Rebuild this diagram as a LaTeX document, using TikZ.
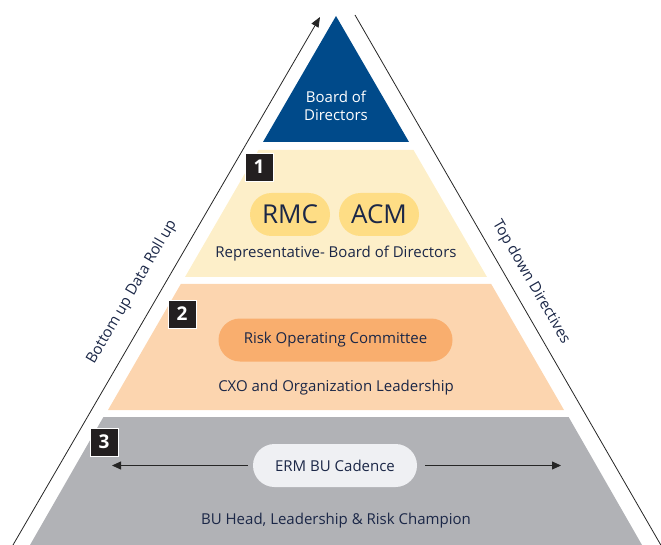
\documentclass[tikz,border=0pt]{standalone}
\usepackage{fontspec}
\setmainfont{Open Sans}
\usetikzlibrary{arrows.meta,calc}
\definecolor{navy}{HTML}{004A8A}
\definecolor{ink}{HTML}{1B2747}
\definecolor{lay1}{HTML}{FDEFC9}
\definecolor{pill1}{HTML}{FEDD85}
\definecolor{lay2}{HTML}{FCD5AF}
\definecolor{pill2}{HTML}{F9AE6E}
\definecolor{lay3}{HTML}{B1B2B6}
\definecolor{pill3}{HTML}{EFF0F3}
\definecolor{numbg}{HTML}{231F20}
\tikzset{
  numbox/.style={draw=white,line width=0.8pt,fill=numbg,text=white,minimum width=28pt,minimum height=28pt,inner sep=0pt,font=\fontsize{19}{19}\selectfont\bfseries},
  pill/.style={rounded corners=21.5pt,minimum height=43pt,inner sep=0pt,text=ink},
  lbl/.style={text=ink,font=\fontsize{15}{17}\selectfont,inner sep=0pt},
  sideline/.style={draw=black!85,line width=0.8pt},
  cadarrow/.style={draw=black!85,line width=0.8pt,-{Triangle[length=9pt,width=8pt]}}
}
\begin{document}
\begin{tikzpicture}[x=1pt,y=-1pt]
\useasboundingbox (0,0) rectangle (661,545);
% layers (cone: half-width = 0.579*(y-16), centre x=336)
\fill[navy] (336,16) -- (263,142) -- (409,142) -- cycle;
\fill[lay1] (258.5,150) -- (413.5,150) -- (487,277) -- (185,277) -- cycle;
\fill[lay2] (180.8,284) -- (491.2,284) -- (564,410) -- (108,410) -- cycle;
\fill[lay3] (103.4,417) -- (568.6,417) -- (642,545) -- (30,545) -- cycle;
% side lines
\coordinate (lb) at (13,545);
\coordinate (lt) at (320,17);
\coordinate (rt) at (355,15);
\coordinate (rb) at (666,554);
\draw[sideline,-{Triangle[length=10pt,width=8pt]}] (lb) -- (lt);
\draw[sideline,-{Triangle[length=10pt,width=8pt]}] (rt) -- (rb);
\node[text=ink,font=\fontsize{15}{17}\selectfont,rotate=59.8] (bu) at (132,292) {Bottom up Data Roll up};
\node[text=ink,font=\fontsize{15}{17}\selectfont,rotate=-60] (td) at (531,282) {Top down Directives};
% top
\node[text=white,font=\fontsize{15}{18}\selectfont,align=center] (bod) at (336,106) {Board of\\Directors};
% layer 1
\node[numbox] (n1) at (259,167) {1};
\node[pill,fill=pill1,minimum width=80pt,font=\fontsize{26}{26}\selectfont] (rmc) at (290,214.5) {RMC};
\node[pill,fill=pill1,minimum width=80pt,font=\fontsize{26}{26}\selectfont] (acm) at (379,214.5) {ACM};
\node[lbl] (rep) at (336,254) {Representative- Board of Directors};
% layer 2
\node[numbox] (n2) at (182,314) {2};
\node[pill,fill=pill2,minimum width=234pt,font=\fontsize{15}{17}\selectfont] (roc) at (335.5,340) {Risk Operating Committee};
\node[lbl] (cxo) at (336,388) {CXO and Organization Leadership};
% layer 3
\node[numbox] (n3) at (104,442) {3};
\node[pill,fill=pill3,minimum width=164pt,font=\fontsize{15}{17}\selectfont] (erm) at (335,465.5) {ERM BU Cadence};
\coordinate (al) at (112,465.5);
\coordinate (ar) at (561,465.5);
\draw[cadarrow] ([xshift=-5pt]erm.west) -- (al);
\draw[cadarrow] ([xshift=8pt]erm.east) -- (ar);
\node[lbl] (bu3) at (336,521) {BU Head, Leadership \& Risk Champion};
\end{tikzpicture}
\end{document}
